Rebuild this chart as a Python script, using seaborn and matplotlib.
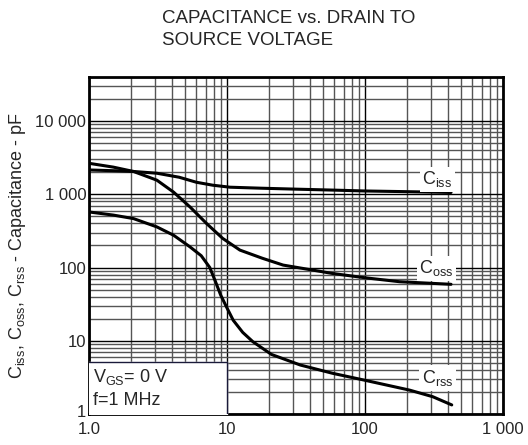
import numpy as np
import pandas as pd
import matplotlib
matplotlib.use('Agg')
import matplotlib.pyplot as plt
import matplotlib.transforms as mtransforms
import seaborn as sns
from matplotlib.ticker import FixedLocator, LogLocator, NullFormatter

sns.set_style('white')
plt.rcParams['font.family'] = ['Liberation Sans', 'DejaVu Sans']
plt.rcParams['mathtext.fontset'] = 'custom'
plt.rcParams['mathtext.rm'] = 'Liberation Sans'

# 読み取り値 (V, pF)
ciss_v = [1.0, 1.5, 2.1, 3.1, 4.5, 6.0, 7.9, 10.5, 18, 32, 60, 100, 180, 420]
ciss_c = [2150, 2100, 2050, 1940, 1710, 1460, 1330, 1250, 1210, 1175, 1140, 1110, 1090, 1060]

coss_v = [1.0, 1.5, 2.1, 3.1, 4.1, 5.4, 7.1, 9.3, 12.4, 18, 25.5, 58, 103, 178, 420]
coss_c = [2650, 2350, 2050, 1560, 1070, 670, 400, 250, 173, 134, 108, 83, 72, 64, 59]

crss_v = [1.0, 1.5, 2.1, 3.1, 4.1, 5.4, 6.5, 7.5, 8.2, 9.0, 10.0, 11.1, 13.0, 15.4, 21, 34, 58, 103, 210, 310, 425]
crss_c = [574, 520, 466, 359, 276, 191, 145, 100, 66, 42, 28, 19, 13, 9.7, 6.5, 4.66, 3.6, 2.85, 2.12, 1.72, 1.33]

x_ticks = [1, 10, 100, 1000]
x_labels = ['1.0', '10', '100', '1 000']
y_ticks = [1, 10, 100, 1000, 10000]
y_labels = ['1', '10', '100', '1 000', '10 000']

df = pd.concat([
    pd.DataFrame({'vds': ciss_v, 'cap': ciss_c, 'curve': 'Ciss'}),
    pd.DataFrame({'vds': coss_v, 'cap': coss_c, 'curve': 'Coss'}),
    pd.DataFrame({'vds': crss_v, 'cap': crss_c, 'curve': 'Crss'}),
])

fig = plt.figure(figsize=(5.28, 4.45), dpi=100)
ax = fig.add_axes([0.1686, 0.0697, 0.7841, 0.7573])
ax.set_xscale('log')
ax.set_yscale('log')
ax.set_xlim(1, 1000)
ax.set_ylim(1, 40000)

# グリッド
ax.xaxis.set_major_locator(FixedLocator(x_ticks))
ax.yaxis.set_major_locator(FixedLocator(y_ticks))
ax.xaxis.set_minor_locator(LogLocator(base=10, subs=np.arange(2, 10)))
ax.yaxis.set_minor_locator(LogLocator(base=10, subs=np.arange(2, 10)))
ax.xaxis.set_minor_formatter(NullFormatter())
ax.yaxis.set_minor_formatter(NullFormatter())
ax.grid(which='major', color='black', linewidth=1.0)
ax.grid(which='minor', color='#555555', linewidth=1.0)
ax.set_axisbelow(True)

sns.lineplot(data=df, x='vds', y='cap', units='curve', estimator=None,
             color='black', linewidth=2.2, ax=ax, sort=False)

ax.set_xticklabels(x_labels, fontsize=12)
ax.set_yticklabels(y_labels, fontsize=12)
ax.tick_params(which='both', length=0)
ax.tick_params(axis='x', pad=6)
ax.tick_params(axis='y', pad=2)
# "1" のラベルを少し上へ
lbl = ax.get_yticklabels()[0]
lbl.set_transform(lbl.get_transform() + mtransforms.ScaledTranslation(0, 3 / 100, fig.dpi_scale_trans))
for s in ax.spines.values():
    s.set_color('black')
    s.set_linewidth(2.0)

ax.set_xlabel('')
ax.set_ylabel(r'C$_{\mathregular{iss}}$, C$_{\mathregular{oss}}$, C$_{\mathregular{rss}}$ - Capacitance - pF',
              fontsize=13, labelpad=5)

# 曲線ラベル
box = dict(facecolor='white', edgecolor='none', pad=2)
ax.text(335, 1600, r'C$_{\mathregular{iss}}$', fontsize=13, ha='center', va='center', bbox=box)
ax.text(330, 97, r'C$_{\mathregular{oss}}$', fontsize=13, ha='center', va='center', bbox=box)
ax.text(335, 3.1, r'C$_{\mathregular{rss}}$', fontsize=13, ha='center', va='center', bbox=box)

# 条件ボックス
ax.fill_between([1, 10], 1, 5.2, color='white', zorder=3)
ax.plot([1, 10, 10], [5.2, 5.2, 1], color='#1a1a3a', linewidth=1.0, zorder=4)
ax.text(1.07, 3.15, r'V$_{\mathregular{GS}}$= 0 V', fontsize=13, va='center', zorder=5)
ax.text(1.07, 1.55, 'f=1 MHz', fontsize=13, va='center', zorder=5)

fig.text(0.307, 0.978, 'CAPACITANCE vs. DRAIN TO\nSOURCE VOLTAGE', fontsize=13.5,
         ha='left', va='top', linespacing=1.4)

fig.savefig('out.png', dpi=100)
